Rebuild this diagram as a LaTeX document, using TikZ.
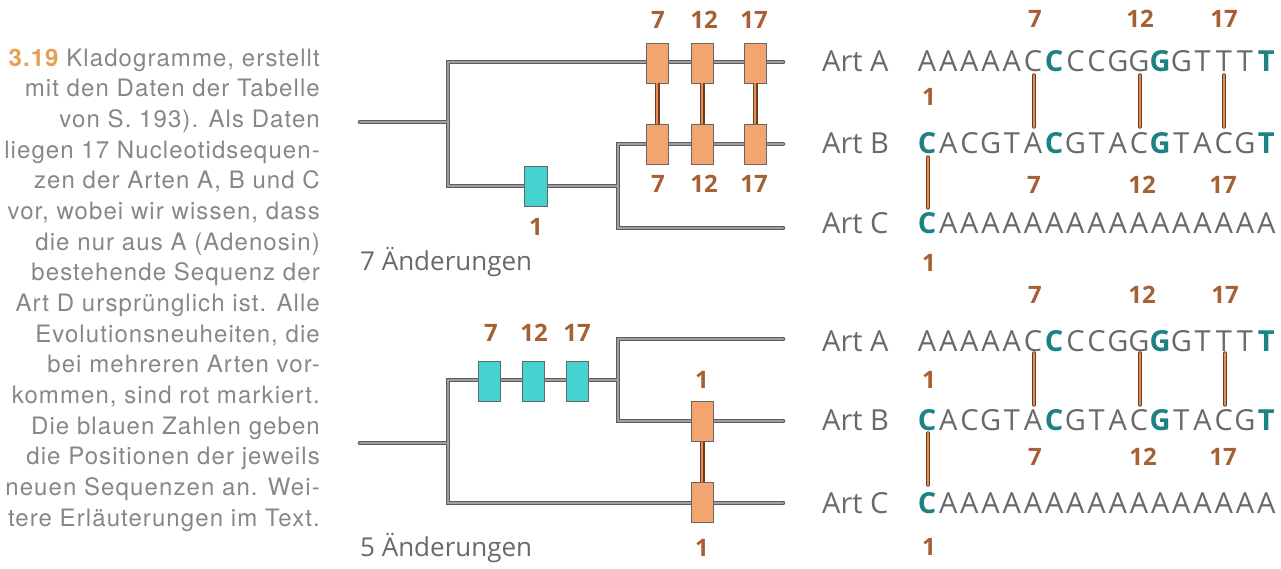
\documentclass[tikz,border=0pt]{standalone}
\usepackage{fontspec}
\setmainfont{Open Sans}
\newfontfamily\capfont[LetterSpace=4.5]{TeX Gyre Heros}
\definecolor{sg}{RGB}{105,105,105}
\definecolor{st}{RGB}{30,130,130}
\definecolor{capgray}{RGB}{135,135,135}
\definecolor{capor}{RGB}{226,160,80}
\definecolor{boxor}{RGB}{244,164,110}
\definecolor{boxcy}{RGB}{70,210,206}
\definecolor{numcol}{RGB}{165,96,52}
\definecolor{brdark}{RGB}{105,62,34}
\definecolor{brlight}{RGB}{232,140,80}
\definecolor{trdark}{RGB}{92,92,92}
\definecolor{trlight}{RGB}{160,160,160}
\def\stname{st}
\tikzset{
  captext/.style={anchor=base east, inner sep=0, text=capgray, font=\capfont\fontsize{24}{30}\selectfont},
  tree/.style={draw=trlight, line width=2.4, line cap=round, line join=miter,
     preaction={draw=trdark, line width=4.6, line cap=round}},
  obox/.style={rectangle, draw=black!60, line width=0.9, fill=boxor, minimum width=22, minimum height=40, inner sep=0},
  cbox/.style={obox, fill=boxcy},
  conn/.style={draw=brlight, line width=2.8, preaction={draw=brdark, line width=5}},
  thinconn/.style={draw=brlight, line width=1.6, line cap=round, preaction={draw=brdark, line width=3.4, line cap=round}},
  num/.style={inner sep=0, text=numcol, font=\fontsize{24}{24}\selectfont\bfseries},
  chg/.style={anchor=west, inner sep=0, text=sg, font=\fontsize{26}{26}\selectfont},
  art/.style={anchor=base west, inner sep=0, text=sg, font=\fontsize{29}{29}\selectfont},
  seqletter/.style={anchor=base, inner sep=0, font=\fontsize{29}{29}\selectfont},
}
\begin{document}
\begin{tikzpicture}[x=1pt,y=-1pt]
\useasboundingbox (0,0) rectangle (1281,568);

% ---------- caption ----------
\node[captext] (cap1)  at (320,66)     {{\color{capor}\bfseries 3.19} Kladogramme, erstellt};
\node[captext] (cap2)  at (320,96.7)   {mit den Daten der Tabelle};
\node[captext] (cap3)  at (320,127.3)  {von S. 193). Als Daten};
\node[captext] (cap4)  at (320,158)    {liegen 17 Nucleotidsequen-};
\node[captext] (cap5)  at (320,188.7)  {zen der Arten A, B und C};
\node[captext] (cap6)  at (320,219.3)  {vor, wobei wir wissen, dass};
\node[captext] (cap7)  at (320,250)    {die nur aus A (Adenosin)};
\node[captext] (cap8)  at (320,280.7)  {bestehende Sequenz der};
\node[captext] (cap9)  at (320,311.3)  {Art D ursprünglich ist. Alle};
\node[captext] (cap10) at (320,342)    {Evolutionsneuheiten, die};
\node[captext] (cap11) at (320,372.7)  {bei mehreren Arten vor-};
\node[captext] (cap12) at (320,403.3)  {kommen, sind rot markiert.};
\node[captext] (cap13) at (320,434)    {Die blauen Zahlen geben};
\node[captext] (cap14) at (320,464.7)  {die Positionen der jeweils};
\node[captext] (cap15) at (320,495.3)  {neuen Sequenzen an. Wei-};
\node[captext] (cap16) at (320,526)    {tere Erläuterungen im Text.};

% ---------- cladogram 1 ----------
\coordinate (r1) at (360,122);
\coordinate (j1) at (448,122);
\coordinate (j1t) at (448,62);
\coordinate (j1b) at (448,186);
\coordinate (j2) at (618,186);
\coordinate (j2t) at (618,144);
\coordinate (j2b) at (618,228);
\coordinate (eA1) at (783,62);
\coordinate (eB1) at (783,144);
\coordinate (eC1) at (783,228);
\draw[tree] (r1) -- (j1) (eA1) -- (j1t) -- (j1b) -- (j2) (eB1) -- (j2t) -- (j2b) -- (eC1);

\node[obox] (oA7)  at (657,63) {};
\node[obox] (oA12) at (702,63) {};
\node[obox] (oA17) at (755,63) {};
\node[obox] (oB7)  at (657,144.5) {};
\node[obox] (oB12) at (702,144.5) {};
\node[obox] (oB17) at (755,144.5) {};
\node[cbox, minimum width=23] (c1) at (535.5,186.5) {};
\draw[conn] (oA7) -- (oB7);
\draw[conn] (oA12) -- (oB12);
\draw[conn] (oA17) -- (oB17);

\node[num] (n1a) at (658,20) {7};
\node[num] (n1b) at (704,20) {12};
\node[num] (n1c) at (754,20) {17};
\node[num] (n1d) at (658,184) {7};
\node[num] (n1e) at (704,184) {12};
\node[num] (n1f) at (754,184) {17};
\node[num] (n1g) at (536,227) {1};
\node[chg] (ch1) at (360,262) {7 Änderungen};

% ---------- cladogram 2 ----------
\coordinate (r2) at (360,443);
\coordinate (j3) at (448,443);
\coordinate (j3t) at (448,380);
\coordinate (j3b) at (448,503);
\coordinate (j4) at (618,380);
\coordinate (j4t) at (618,339);
\coordinate (j4b) at (618,421);
\coordinate (eA2) at (783,339);
\coordinate (eB2) at (783,421);
\coordinate (eC2) at (783,503);
\draw[tree] (r2) -- (j3) (j4) -- (j3t) -- (j3b) -- (eC2) (eA2) -- (j4t) -- (j4b) -- (eB2);

\node[cbox] (c7)  at (489,381) {};
\node[cbox] (c12) at (533.5,381) {};
\node[cbox] (c17) at (577.5,381) {};
\node[obox] (oB1) at (702,421.5) {};
\node[obox] (oC1) at (702,502.5) {};
\draw[conn] (oB1) -- (oC1);

\node[num] (n2a) at (491,333) {7};
\node[num] (n2b) at (534,333) {12};
\node[num] (n2c) at (577,333) {17};
\node[num] (n2d) at (702,380) {1};
\node[num] (n2e) at (702,548) {1};
\node[chg] (ch2) at (360,548) {5 Änderungen};

% ---------- sequences ----------
\node[art] (artA1) at (822,71.5) {Art A};
\node[art] (artB1) at (822,153)  {Art B};
\node[art] (artC1) at (822,233)  {Art C};
\node[art] (artA2) at (822,351.5) {Art A};
\node[art] (artB2) at (822,430)   {Art B};
\node[art] (artC2) at (822,513)   {Art C};

\foreach \by/\nm in {71.5/a1, 351.5/a2}{
  \foreach \ch/\cl [count=\i] in {A/sg,A/sg,A/sg,A/sg,A/sg,C/sg,C/st,C/sg,C/sg,G/sg,G/sg,G/st,G/sg,T/sg,T/sg,T/sg,T/st}
    \node[seqletter, text=\cl] (\nm\i) at ({927+21.2*(\i-1)},\by) {\ifx\cl\stname\bfseries\fi\ch};
}
\foreach \by/\nm in {153/b1, 430/b2}{
  \foreach \ch/\cl [count=\i] in {C/st,A/sg,C/sg,G/sg,T/sg,A/sg,C/st,G/sg,T/sg,A/sg,C/sg,G/st,T/sg,A/sg,C/sg,G/sg,T/st}
    \node[seqletter, text=\cl] (\nm\i) at ({927+21.2*(\i-1)},\by) {\ifx\cl\stname\bfseries\fi\ch};
}
\foreach \by/\nm in {233/c1, 513/c2}{
  \foreach \ch/\cl [count=\i] in {C/st,A/sg,A/sg,A/sg,A/sg,A/sg,A/sg,A/sg,A/sg,A/sg,A/sg,A/sg,A/sg,A/sg,A/sg,A/sg,A/sg}
    \node[seqletter, text=\cl] (\nm\i) at ({927+21.2*(\i-1)},\by) {\ifx\cl\stname\bfseries\fi\ch};
}

% block 1 marks
\coordinate (m1at) at (1034,75);  \coordinate (m1ab) at (1034,127);
\coordinate (m1bt) at (1140,75);  \coordinate (m1bb) at (1140,127);
\coordinate (m1ct) at (1224,75);  \coordinate (m1cb) at (1224,127);
\coordinate (m1dt) at (928,157);  \coordinate (m1db) at (928,208);
\draw[thinconn] (m1at) -- (m1ab);
\draw[thinconn] (m1bt) -- (m1bb);
\draw[thinconn] (m1ct) -- (m1cb);
\draw[thinconn] (m1dt) -- (m1db);
\node[num] (s1a) at (1035,19) {7};
\node[num] (s1b) at (1140,19) {12};
\node[num] (s1c) at (1224,19) {17};
\node[num] (s1d) at (929,97) {1};
\node[num] (s1e) at (1034,185) {7};
\node[num] (s1f) at (1142,185) {12};
\node[num] (s1g) at (1223,185) {17};
\node[num] (s1h) at (929,263) {1};

% block 2 marks
\coordinate (m2at) at (1034,353);  \coordinate (m2ab) at (1034,405);
\coordinate (m2bt) at (1140,353);  \coordinate (m2bb) at (1140,405);
\coordinate (m2ct) at (1225,353);  \coordinate (m2cb) at (1225,405);
\coordinate (m2dt) at (928,433);   \coordinate (m2db) at (928,485);
\draw[thinconn] (m2at) -- (m2ab);
\draw[thinconn] (m2bt) -- (m2bb);
\draw[thinconn] (m2ct) -- (m2cb);
\draw[thinconn] (m2dt) -- (m2db);
\node[num] (s2a) at (1035,295) {7};
\node[num] (s2b) at (1142,295) {12};
\node[num] (s2c) at (1225,295) {17};
\node[num] (s2d) at (929,380) {1};
\node[num] (s2e) at (1035,457) {7};
\node[num] (s2f) at (1143,457) {12};
\node[num] (s2g) at (1223,457) {17};
\node[num] (s2h) at (929,547) {1};
\end{tikzpicture}
\end{document}
